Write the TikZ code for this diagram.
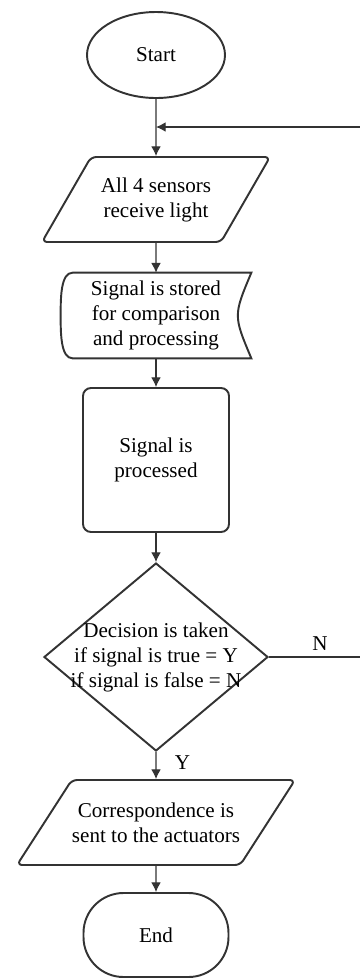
\documentclass[tikz,border=0pt]{standalone}
\usepackage{fontspec}
\setmainfont{Liberation Serif}
\newfontfamily\flowfont{Liberation Serif}
\usetikzlibrary{shapes,arrows,arrows.meta,positioning}
\tikzstyle{outlined} = [draw=black!80,line width=1.1pt]
\tikzstyle{terminal} = [outlined,ellipse,minimum width=2.76cm,minimum height=1.72cm,inner sep=0pt]
\tikzstyle{io} = [outlined,trapezium,trapezium left angle=42,trapezium right angle=138,trapezium stretches body,rounded corners=3pt,minimum height=1.7cm,minimum width=4.56cm,inner sep=0pt,align=center]
\tikzstyle{stored} = [rectangle,minimum width=3.8cm,minimum height=1.7cm,inner sep=0pt,align=center]
\tikzstyle{block} = [outlined,rectangle,rounded corners=0.16cm,minimum width=2.92cm,minimum height=2.88cm,align=center]
\tikzstyle{decision} = [outlined,diamond,minimum width=4.48cm,minimum height=3.76cm,inner sep=0pt]
\tikzstyle{stop} = [outlined,rectangle,rounded corners=0.8cm,minimum width=2.9cm,minimum height=1.68cm]
\tikzstyle{arrowline} = [draw=black!80,line width=0.6pt,-{Latex[length=5.5pt,width=5.5pt]}]

\begin{document}
\begin{tikzpicture}[auto,font=\flowfont\fontsize{12}{14.2}\selectfont]
  \useasboundingbox (0,0) rectangle (7.18,-19.56);
  %start
  \node[terminal] (start) at (3.12,-1.1) {Start};
  \node[coordinate,below of=start,node distance=1.44cm] (join) {};

  %sensors
  \node[io,below of=start,node distance=2.89cm] (sensors) {All 4 sensors\\receive light};

  %stored data
  \node[stored,below of=sensors,node distance=2.32cm] (store) {Signal is stored\\for comparison\\and processing};
  \draw[outlined] ([xshift=0.24cm]store.north west) -- (store.north east)
    .. controls ([xshift=-0.36cm]store.east) .. (store.south east)
    -- ([xshift=0.24cm]store.south west)
    .. controls (store.south west) and ([yshift=-0.35cm]store.west) .. (store.west)
    .. controls ([yshift=0.35cm]store.west) and (store.north west) .. cycle;

  %process
  \node[block,below of=store,node distance=2.89cm] (process) {Signal is\\processed};

  %decision
  \node[decision,below of=process,node distance=3.94cm,
    label={[align=center]center:Decision is taken\\if signal is true = Y\\if signal is false = N}] (dec) {};
  \node[coordinate,right of=dec,node distance=4.3cm] (p1) {};

  %output
  \node[io,trapezium left angle=36,trapezium right angle=144,minimum width=5.56cm,below of=dec,node distance=3.31cm] (out) {Correspondence is\\sent to the actuators};

  %end
  \node[stop,below of=out,node distance=2.25cm] (end) {End};

  %draw the arrows
  \draw [arrowline] (start) -- (sensors);
  \draw [arrowline] (sensors) -- (store);
  \draw [arrowline] (store) -- (process);
  \draw [arrowline] (process) -- (dec);
  \draw [arrowline] (dec) -- node[pos=0.4,xshift=0.25cm]{Y} (out);
  \draw [arrowline] (out) -- (end);

  %loop back
  \draw [arrowline] (dec.east) -- node{N} (p1) |- (join);

\end{tikzpicture}
\end{document}
